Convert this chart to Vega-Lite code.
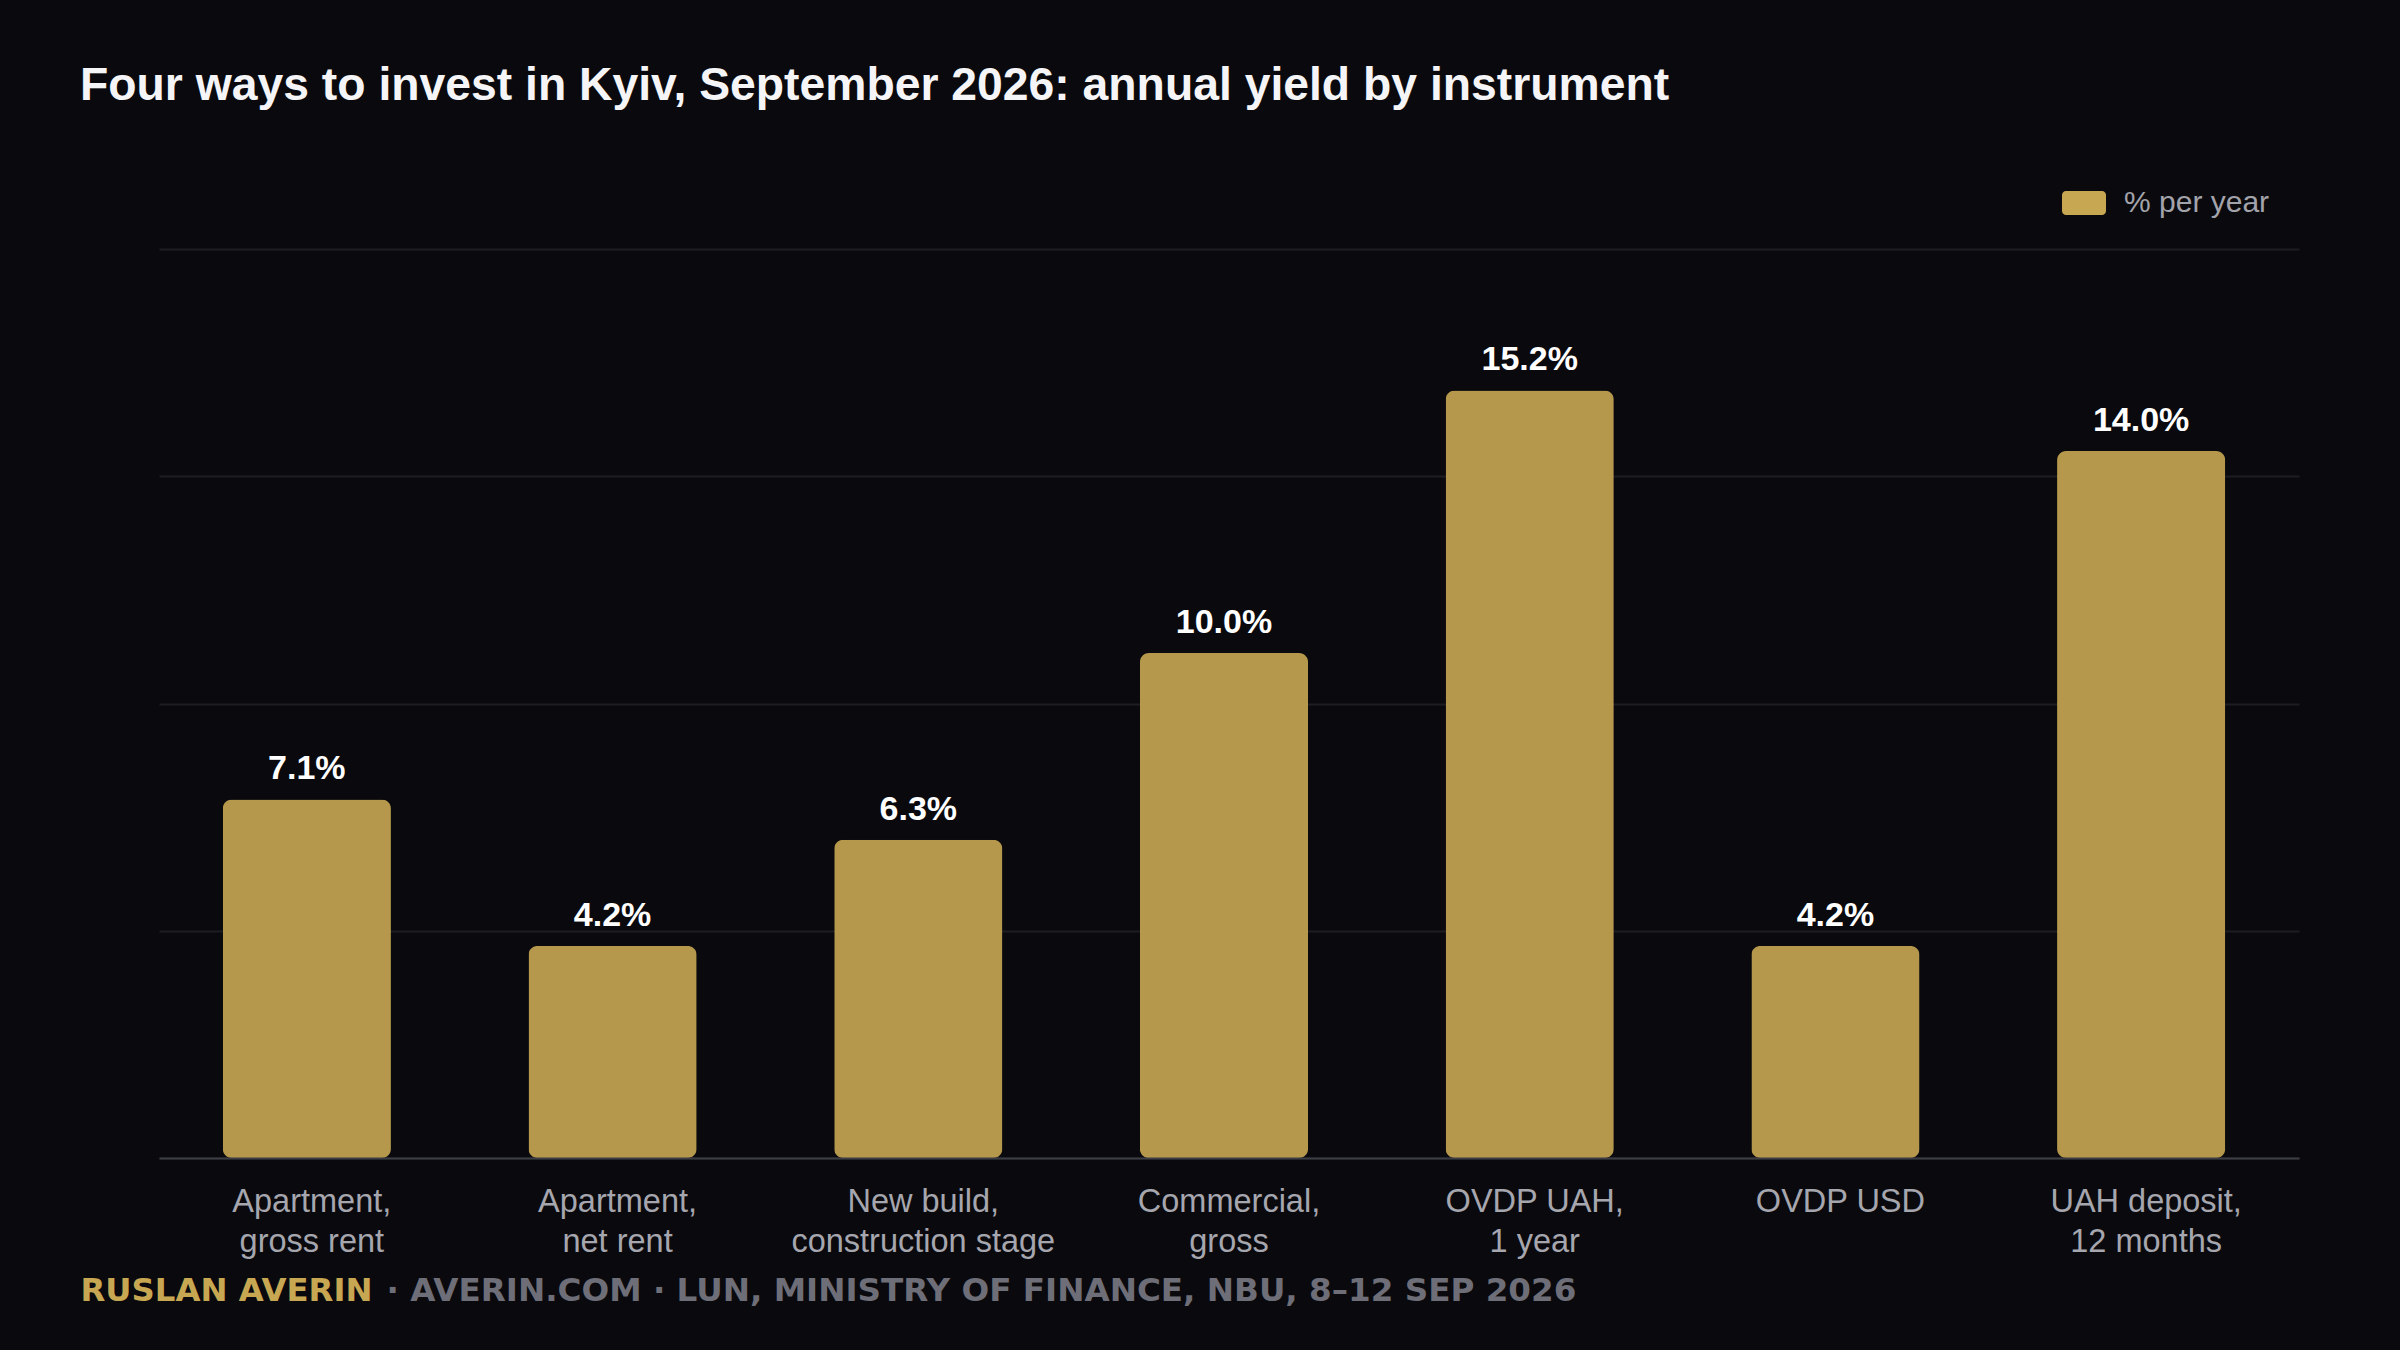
{
  "$schema": "https://vega.github.io/schema/vega-lite/v6.json",
  "description": "Annual yield by instrument, Kyiv, September 2026.",
  "width": 2140,
  "height": 909,
  "autosize": {"type": "none"},
  "padding": {"left": 159, "top": 249, "right": 101, "bottom": 192},
  "background": "#0a0a0e",
  "config": {
    "view": {"stroke": null},
    "font": "Liberation Sans"
  },
  "title": {
    "text": "Four ways to invest in Kyiv, September 2026: annual yield by instrument",
    "anchor": "start",
    "frame": "group",
    "dx": -79,
    "offset": 35,
    "baseline": "alphabetic",
    "font": "Liberation Sans",
    "fontSize": 46.3,
    "fontWeight": "bold",
    "color": "#f5f5f7"
  },
  "data": {
    "values": [
      {"instrument": "Apartment,\ngross rent", "yield": 7.1},
      {"instrument": "Apartment,\nnet rent", "yield": 4.2},
      {"instrument": "New build,\nconstruction stage", "yield": 6.3},
      {"instrument": "Commercial,\ngross", "yield": 10.0},
      {"instrument": "OVDP UAH,\n1 year", "yield": 15.2},
      {"instrument": "OVDP USD", "yield": 4.2},
      {"instrument": "UAH deposit,\n12 months", "yield": 14.0}
    ]
  },
  "encoding": {
    "x": {
      "field": "instrument",
      "type": "nominal",
      "sort": null,
      "scale": {"paddingInner": 0.45, "paddingOuter": 0.225},
      "axis": {
        "title": "· AVERIN.COM · LUN, MINISTRY OF FINANCE, NBU, 8–12 SEP 2026",
        "titleX": 227,
        "titleY": 142,
        "titleAlign": "left",
        "titleBaseline": "alphabetic",
        "titleFont": "DejaVu Sans",
        "titleFontSize": 32.6,
        "titleFontWeight": "bold",
        "titleColor": "#6e6e78",
        "labelExpr": "split(datum.label, '\\n')",
        "labelAngle": 0,
        "labelLimit": 500,
        "labelFont": "Liberation Sans",
        "labelFontSize": 32.5,
        "labelLineHeight": 40,
        "labelColor": "#a6a6ae",
        "labelPadding": 27,
        "ticks": false,
        "tickSize": 0,
        "domainColor": "#3d3d45",
        "domainWidth": 2,
        "grid": false,
        "zindex": 1
      }
    },
    "y": {
      "field": "yield",
      "type": "quantitative",
      "scale": {"domain": [0, 18], "nice": false},
      "axis": {
        "values": [0, 4.5, 9, 13.5, 18],
        "labels": false,
        "ticks": false,
        "domain": false,
        "grid": true,
        "gridColor": "#1c1c22",
        "gridWidth": 2,
        "title": "RUSLAN AVERIN",
        "titleAngle": 0,
        "titleX": -79,
        "titleY": 1051,
        "titleAlign": "left",
        "titleBaseline": "alphabetic",
        "titleFont": "DejaVu Sans",
        "titleFontSize": 32.3,
        "titleFontWeight": "bold",
        "titleColor": "#c8a752"
      }
    }
  },
  "layer": [
    {
      "mark": {"type": "bar", "cornerRadius": 9, "opacity": 0.9, "xOffset": -5},
      "encoding": {
        "color": {
          "datum": "% per year",
          "scale": {"range": ["#c8a752"]},
          "legend": {
            "title": null,
            "orient": "none",
            "legendX": 1903,
            "legendY": -68,
            "padding": 0,
            "symbolType": "M-0.82,-0.545H0.82A0.18,0.18 0 0 1 1,-0.365V0.365A0.18,0.18 0 0 1 0.82,0.545H-0.82A0.18,0.18 0 0 1 -1,0.365V-0.365A0.18,0.18 0 0 1 -0.82,-0.545Z",
            "symbolSize": 1936,
            "symbolOpacity": 1,
            "symbolStrokeWidth": 0,
            "labelFont": "Liberation Sans",
            "labelFontSize": 30,
            "labelColor": "#a3a3ab",
            "labelOffset": 18
          }
        }
      }
    },
    {
      "transform": [
        {"calculate": "format(datum.yield, '.1f') + '%'", "as": "label"}
      ],
      "mark": {
        "type": "text",
        "baseline": "alphabetic",
        "dy": -20,
        "dx": -5,
        "font": "Liberation Sans",
        "fontSize": 34,
        "fontWeight": "bold",
        "color": "#ffffff"
      },
      "encoding": {
        "text": {"field": "label", "type": "nominal"}
      }
    }
  ]
}
